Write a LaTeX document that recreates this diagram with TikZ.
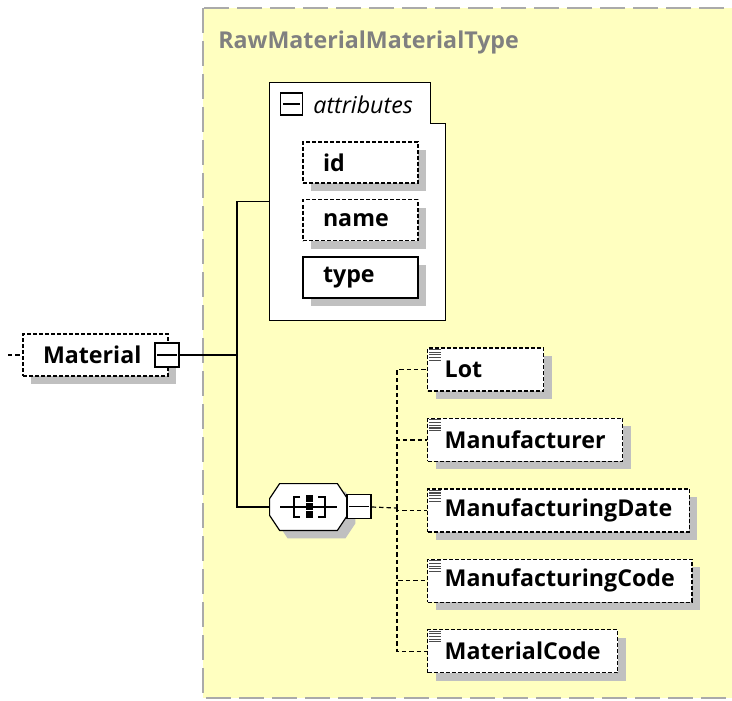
\documentclass[tikz,border=0pt]{standalone}
\usepackage{fontspec}
\setmainfont{Open Sans}
\usetikzlibrary{positioning,shadows}
\definecolor{xsdyellow}{RGB}{255,255,192}
\definecolor{xsdframe}{RGB}{170,170,170}
\definecolor{xsdshadow}{RGB}{192,192,192}
\definecolor{xsdtitle}{RGB}{128,128,128}
\newcommand{\elemicon}[1]{%
  \foreach \k in {0,...,4}
    \draw[line width=0.55pt, black!70] ([xshift=1.2pt, yshift=-1.1pt-\k*1.35pt]#1.north west) -- ++(5.8pt,0);}
\newcommand{\octpath}[1]{([xshift=5pt]#1.north west) -- ([xshift=-5pt]#1.north east)
  -- ([yshift=-7.5pt]#1.north east) -- ([yshift=7.5pt]#1.south east) -- ([xshift=-5pt]#1.south east)
  -- ([xshift=5pt]#1.south west) -- ([yshift=7.5pt]#1.south west) -- ([yshift=-7.5pt]#1.north west) -- cycle}

\begin{document}
\begin{tikzpicture}[
    x=0.5pt, y=-0.5pt,
    font=\bfseries\fontsize{11.6}{13}\selectfont,
    shade/.style={drop shadow={shadow xshift=4pt, shadow yshift=-4pt, fill=xsdshadow, opacity=1}},
    elem/.style={rectangle, draw, fill=white, line width=0.7pt, dash pattern=on 2pt off 1pt,
                 shade, minimum height=21.5pt, inner xsep=8.5pt, inner ysep=0pt},
    attr/.style={rectangle, draw, fill=white, line width=0.7pt, shade, minimum height=20.5pt,
                 text width=37.5pt, inner xsep=10pt, inner ysep=0pt, align=left},
    minus/.style={rectangle, draw, fill=white, line width=0.7pt, minimum size=12pt, inner sep=0pt},
    link/.style={line width=0.6pt},
    dlink/.style={line width=0.6pt, dash pattern=on 2.2pt off 1.5pt}
]
\clip (0,0) rectangle (732,700);

% complex type frame
\draw[fill=xsdyellow, draw=xsdframe, line width=1pt, dash pattern=on 12.5pt off 4pt]
    (203,8) rectangle (780,698);
\node[anchor=west, text=xsdtitle, inner sep=0pt] (title) at (218,42) {RawMaterialMaterialType};

% root element
\coordinate (inlet) at (8,355);
\node[elem, text width=52.5pt, inner xsep=10pt, align=left, minimum height=21pt] (mat) at (95.5,355) {Material};
\node[minus] (matminus) at (167,355) {};
\draw[link, shorten <=1.5pt, shorten >=1.5pt] (matminus.west) -- (matminus.east);
\draw[dlink] (inlet) -- (mat);

% attributes
\node[minimum width=87.5pt, minimum height=118.5pt, inner sep=0pt] (attrs) at (357.5,201.5) {};
\draw[line width=0.6pt, fill=white] (attrs.north west) -- ([xshift=-7.5pt]attrs.north east)
    -- ++(0,-20.5pt) -- ++(7.5pt,0) -- (attrs.south east) -- (attrs.south west) -- cycle;
\node[minus, minimum size=11pt] (attrminus) at (291.5,104) {};
\draw[link, shorten <=1.5pt, shorten >=1.5pt] (attrminus.west) -- (attrminus.east);
\node[anchor=west, font=\itshape\fontsize{11.6}{13}\selectfont, inner sep=0pt] (attrlabel) at (313,105) {attributes};
\node[attr, dash pattern=on 2pt off 1pt] (id) at (360.5,162.5) {id};
\node[attr, dash pattern=on 2pt off 1pt] (name) at (360.5,220) {name};
\node[attr] (type) at (360.5,277.5) {type};

% sequence
\node[minimum width=38.5pt, minimum height=23pt, inner sep=0pt] (seq) at (308.5,507) {};
\begin{scope}[transform canvas={shift={(4pt,-4pt)}}]
  \fill[xsdshadow] \octpath{seq};
\end{scope}
\draw[line width=0.6pt, fill=white] \octpath{seq};
\begin{scope}[shift={(seq.center)}, line width=0.6pt]
  \draw (-28.5,0) -- (28.5,0);
  \draw (-8.5,-10) -- (-14.5,-10) -- (-14.5,10) -- (-8.5,10);
  \draw (9.5,-10) -- (16.5,-10) -- (16.5,10) -- (9.5,10);
  \fill (-2.5,-12) rectangle (4.5,-5);
  \fill (-2.5,-4) rectangle (4.5,3);
  \fill (-2.5,4) rectangle (4.5,11);
\end{scope}
\node[minus] (seqminus) at (359,506.5) {};
\draw[link, shorten <=1.5pt, shorten >=1.5pt] (seqminus.west) -- (seqminus.east);

% child elements
\node[elem, text width=41pt, align=left, anchor=west] (lot) at (427,369.5) {Lot};
\node[elem, below=13pt of lot.south west, anchor=north west] (manu) {Manufacturer};
\node[elem, below=13pt of manu.south west, anchor=north west] (mdate) {ManufacturingDate};
\node[elem, below=13pt of mdate.south west, anchor=north west] (mcode) {ManufacturingCode};
\node[elem, below=13pt of mcode.south west, anchor=north west] (matcode) {MaterialCode};
\elemicon{lot}
\elemicon{manu}
\elemicon{mdate}
\elemicon{mcode}
\elemicon{matcode}

% connectors
\coordinate (jn) at (237,355);
\coordinate (fork) at (397,508);
\draw[link] (matminus) -- (jn);
\draw[link] (attrs.west) -| (jn) |- (seq.west);
\draw[dlink] (seqminus) -- (fork);
\draw[dlink] (fork) |- (lot.west);
\draw[dlink] (fork) |- (manu.west);
\draw[dlink] (fork) |- (mdate.west);
\draw[dlink] (fork) |- (mcode.west);
\draw[dlink] (fork) |- (matcode.west);
\end{tikzpicture}
\end{document}
